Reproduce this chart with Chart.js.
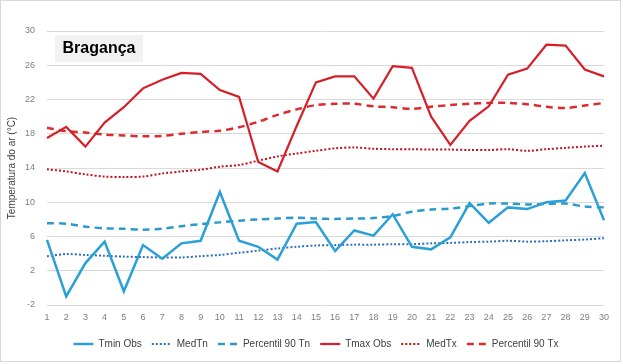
<!DOCTYPE html>
<html>
<head>
<meta charset="utf-8">
<script src="https://cdn.jsdelivr.net/npm/chart.js@4.4.1/dist/chart.umd.min.js"></script>
<style>
html,body{margin:0;padding:0;background:#fff;}
#wrap{width:623px;height:364px;position:relative;}
</style>
</head>
<body>
<div id="wrap"><canvas id="c" width="623" height="364"></canvas></div>
<script>
const stationName = "Bragança";
const yAxisTitle = "Temperatura do ar (°C)";
const days = ["1","2","3","4","5","6","7","8","9","10","11","12","13","14","15","16","17","18","19","20","21","22","23","24","25","26","27","28","29","30"];
const yTicks = [-2, 2, 6, 10, 14, 18, 22, 26, 30];

const tminObs = [5.6, -1.0, 2.9, 5.4, -0.4, 5.0, 3.4, 5.2, 5.5, 11.2, 5.5, 4.8, 3.3, 7.5, 7.7, 4.3, 6.7, 6.1, 8.6, 4.8, 4.5, 5.9, 9.9, 7.6, 9.4, 9.2, 10.0, 10.2, 13.4, 7.9];
const medTn = [3.7, 3.95, 3.85, 3.75, 3.65, 3.6, 3.55, 3.55, 3.7, 3.85, 4.1, 4.35, 4.6, 4.8, 4.95, 5.0, 5.05, 5.05, 5.1, 5.1, 5.2, 5.25, 5.35, 5.4, 5.5, 5.4, 5.45, 5.55, 5.65, 5.8];
const p90Tn = [7.55, 7.5, 7.15, 6.95, 6.9, 6.8, 6.9, 7.2, 7.45, 7.65, 7.85, 8.0, 8.1, 8.2, 8.1, 8.05, 8.1, 8.15, 8.4, 8.9, 9.15, 9.25, 9.55, 9.85, 9.85, 9.75, 9.8, 9.85, 9.5, 9.4];
const tmaxObs = [17.5, 18.8, 16.5, 19.3, 21.1, 23.3, 24.3, 25.1, 25.0, 23.1, 22.3, 14.7, 13.6, 18.9, 24.0, 24.7, 24.7, 22.1, 25.9, 25.7, 20.0, 16.7, 19.5, 21.2, 24.9, 25.6, 28.4, 28.3, 25.5, 24.7];
const medTx = [13.85, 13.6, 13.25, 13.0, 12.95, 13.0, 13.35, 13.6, 13.8, 14.15, 14.35, 14.85, 15.35, 15.7, 16.0, 16.3, 16.4, 16.25, 16.2, 16.2, 16.15, 16.15, 16.1, 16.1, 16.2, 16.0, 16.2, 16.35, 16.5, 16.6];
const p90Tx = [18.7, 18.3, 18.15, 17.9, 17.8, 17.7, 17.75, 18.0, 18.2, 18.35, 18.75, 19.4, 20.2, 20.85, 21.35, 21.5, 21.5, 21.2, 21.1, 20.9, 21.15, 21.35, 21.5, 21.6, 21.6, 21.45, 21.15, 21.0, 21.3, 21.6];

const seriesLabels = ["Tmin Obs", "MedTn", "Percentil 90 Tn", "Tmax Obs", "MedTx", "Percentil 90 Tx"];

const FONT = "'Liberation Sans', Arial, sans-serif";

const framePlugin = {
  id: 'frame',
  beforeDraw(chart) {
    const ctx = chart.ctx;
    ctx.save();
    ctx.fillStyle = '#ffffff';
    ctx.fillRect(0, 0, chart.width, chart.height);
    ctx.strokeStyle = '#d9d9d9';
    ctx.lineWidth = 1;
    ctx.strokeRect(0.5, 0.5, 620, 361);
    ctx.restore();
  },
  afterLayout(chart) {
    const lg = chart.legend;
    if (lg) { lg.left += 14; lg.right += 14; }
  },
  afterDraw(chart) {
    const ctx = chart.ctx;
    ctx.save();
    ctx.fillStyle = '#f2f2f2';
    ctx.fillRect(55, 35, 88, 27);
    ctx.fillStyle = '#000000';
    ctx.font = "bold 16px " + FONT;
    ctx.textAlign = 'center';
    ctx.textBaseline = 'middle';
    ctx.fillText(stationName, 99, 49);
    ctx.restore();
  }
};

const ds = (label, data, color, width, dash, tension) => ({
  label, data, borderColor: color, backgroundColor: color,
  borderWidth: width, borderDash: dash, pointRadius: 0, pointHoverRadius: 0,
  tension: tension, fill: false
});

new Chart(document.getElementById('c'), {
  type: 'line',
  data: {
    labels: days,
    datasets: [
      ds(seriesLabels[0], tminObs, '#2ba0d6', 2.5, [], 0),
      ds(seriesLabels[1], medTn, '#2f6fb6', 2, [2, 2], 0.3),
      ds(seriesLabels[2], p90Tn, '#2a9acb', 2.5, [7, 5], 0.3),
      ds(seriesLabels[3], tmaxObs, '#d5202a', 2.2, [], 0),
      ds(seriesLabels[4], medTx, '#c0141c', 2, [2, 2], 0.3),
      ds(seriesLabels[5], p90Tx, '#df2a2d', 2.5, [7, 5], 0.3)
    ]
  },
  options: {
    responsive: false,
    animation: false,
    devicePixelRatio: 1,
    layout: { padding: { left: 0, right: 19, top: 31, bottom: 5 } },
    plugins: {
      tooltip: { enabled: false },
      legend: {
        position: 'bottom',
        labels: {
          usePointStyle: true,
          pointStyle: 'line',
          pointStyleWidth: 20,
          padding: 10,
          color: '#404040',
          font: { family: FONT, size: 10 },
          generateLabels(chart) {
            return chart.data.datasets.map((d, i) => ({
              text: d.label,
              fillStyle: d.borderColor,
              strokeStyle: d.borderColor,
              lineWidth: d.borderWidth,
              lineDash: d.borderDash,
              lineCap: 'butt',
              pointStyle: 'line',
              fontColor: '#404040',
              hidden: false,
              datasetIndex: i
            }));
          }
        }
      }
    },
    scales: {
      x: {
        offset: false,
        grid: { display: false, drawTicks: false },
        border: { display: false },
        ticks: { color: '#7f7f7f', font: { family: FONT, size: 9 }, padding: 7.5, maxRotation: 0, autoSkip: false },
        afterFit(s) { s.height = 24; }
      },
      y: {
        min: -2, max: 30,
        grid: { color: '#d9d9d9', lineWidth: 1, drawTicks: false },
        border: { display: false },
        afterBuildTicks(s) { s.ticks = yTicks.map(v => ({ value: v })); },
        ticks: { color: '#7f7f7f', font: { family: FONT, size: 9 }, padding: 12 },
        title: { display: true, text: yAxisTitle, color: '#404040', font: { family: FONT, size: 10 }, padding: { top: 6, bottom: 0 } },
        afterFit(s) { s.width = 47; }
      }
    }
  },
  plugins: [framePlugin]
});
</script>
</body>
</html>
